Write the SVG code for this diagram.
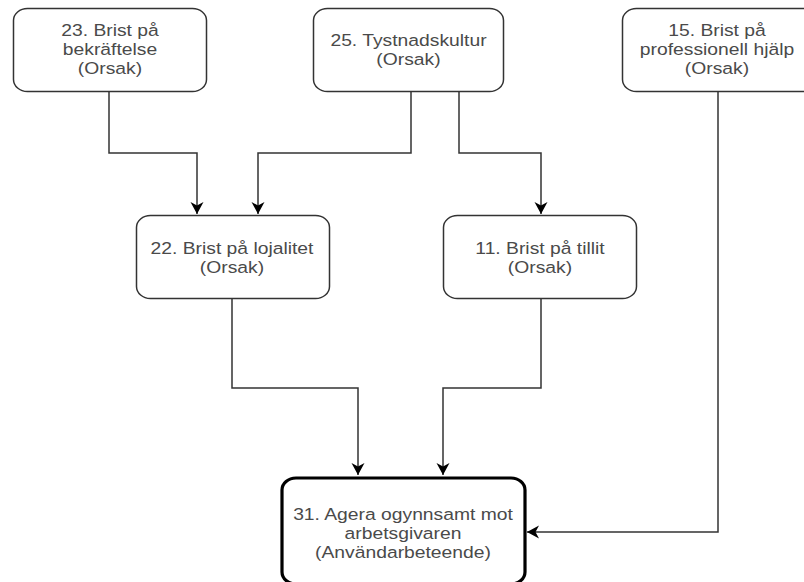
<svg xmlns="http://www.w3.org/2000/svg" width="804" height="582" viewBox="0 0 804 582">
  <style>
    .box { fill: #ffffff; stroke: #333333; stroke-width: 1.5; }
    .main { fill: #ffffff; stroke: #000000; stroke-width: 3.2; }
    .edge { fill: none; stroke: #333333; stroke-width: 1.5; }
    .lbl { font-family: "Liberation Sans", Arial, sans-serif; font-size: 16.5px; fill: #4a4a4a; text-anchor: middle; }
  </style>
  <defs>
    <marker id="arrow" markerUnits="userSpaceOnUse" markerWidth="14" markerHeight="14" viewBox="0 0 14 14" refX="12" refY="7" orient="auto">
      <path d="M0,0.5 L12,7 L0,13.5 L3.5,7 Z" fill="#000000"/>
    </marker>
  </defs>
  <rect width="804" height="582" fill="#ffffff"/>

  <g id="connectors">
    <path class="edge" d="M109,91 V153 H197 V214" marker-end="url(#arrow)"/>
    <path class="edge" d="M411,92 V153 H258 V214" marker-end="url(#arrow)"/>
    <path class="edge" d="M459,92 V153 H541 V214" marker-end="url(#arrow)"/>
    <path class="edge" d="M232,298 V388 H358 V475" marker-end="url(#arrow)"/>
    <path class="edge" d="M541,298 V388 H443 V475" marker-end="url(#arrow)"/>
    <path class="edge" d="M718,91 V532 H527" marker-end="url(#arrow)"/>
  </g>

  <g id="n23">
    <rect class="box" x="13.5" y="8.5" width="193" height="83" rx="14" ry="12"/>
    <g transform="translate(110 0) scale(1.17 1)">
      <text class="lbl" x="0" y="36">23. Brist på</text>
      <text class="lbl" x="0" y="55">bekräftelse</text>
      <text class="lbl" x="0" y="74">(Orsak)</text>
    </g>
  </g>

  <g id="n25">
    <rect class="box" x="313.5" y="8.5" width="190" height="83" rx="14" ry="12"/>
    <g transform="translate(408.5 0) scale(1.17 1)">
      <text class="lbl" x="0" y="46">25. Tystnadskultur</text>
      <text class="lbl" x="0" y="65">(Orsak)</text>
    </g>
  </g>

  <g id="n15">
    <rect class="box" x="622.5" y="8.5" width="194" height="83" rx="14" ry="12"/>
    <g transform="translate(717 0) scale(1.17 1)">
      <text class="lbl" x="0" y="36">15. Brist på</text>
      <text class="lbl" x="0" y="55">professionell hjälp</text>
      <text class="lbl" x="0" y="74">(Orsak)</text>
    </g>
  </g>

  <g id="n22">
    <rect class="box" x="136.5" y="215.5" width="193" height="83" rx="14" ry="12"/>
    <g transform="translate(232 0) scale(1.17 1)">
      <text class="lbl" x="0" y="254">22. Brist på lojalitet</text>
      <text class="lbl" x="0" y="273">(Orsak)</text>
    </g>
  </g>

  <g id="n11">
    <rect class="box" x="443.5" y="215.5" width="193" height="83" rx="14" ry="12"/>
    <g transform="translate(540 0) scale(1.17 1)">
      <text class="lbl" x="0" y="254">11. Brist på tillit</text>
      <text class="lbl" x="0" y="273">(Orsak)</text>
    </g>
  </g>

  <g id="n31">
    <rect class="main" x="282" y="478" width="243" height="106" rx="14" ry="12"/>
    <g transform="translate(403 0) scale(1.17 1)">
      <text class="lbl" x="0" y="520">31. Agera ogynnsamt mot</text>
      <text class="lbl" x="0" y="539">arbetsgivaren</text>
      <text class="lbl" x="0" y="558">(Användarbeteende)</text>
    </g>
  </g>
</svg>
